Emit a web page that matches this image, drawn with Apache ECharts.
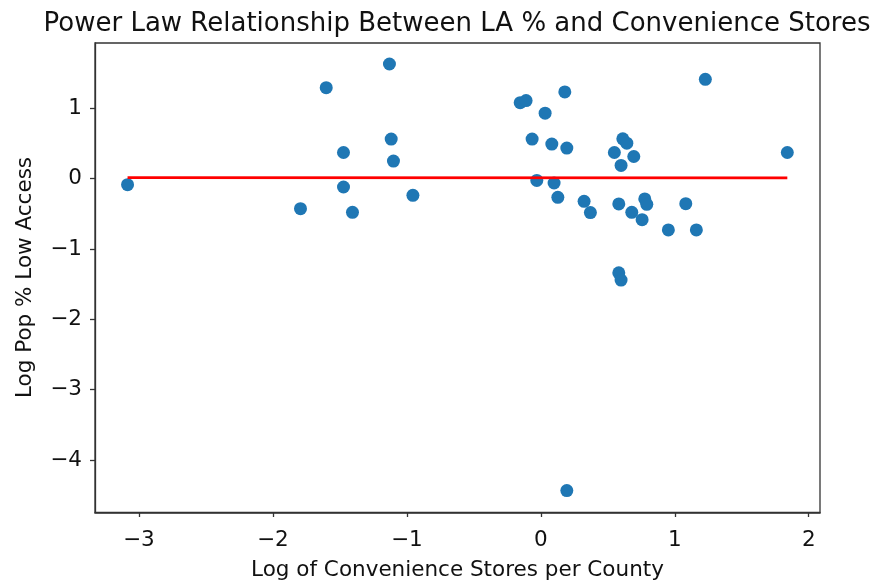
<!DOCTYPE html>
<html>
<head>
<meta charset="utf-8">
<script src="https://cdn.jsdelivr.net/npm/echarts@6/dist/echarts.min.js"></script>
<style>html,body{margin:0;padding:0;background:#fff}#c{width:875px;height:586px}</style>
</head>
<body>
<div id="c"></div>
<script>
const xValues = [-3.085,-1.602,-1.130,-1.117,-1.473,-1.100,-1.473,-0.955,-1.794,-1.406,
  -0.154,-0.110,0.179,0.032,-0.065,0.082,0.194,1.228,1.840,0.612,0.642,0.549,0.694,0.599,
  -0.030,0.099,0.127,0.323,0.370,0.582,0.776,0.791,0.679,0.756,0.952,1.082,1.161,
  0.582,0.599,0.194];
const yValues = [-0.085,1.295,1.631,0.563,0.373,0.251,-0.118,-0.237,-0.426,-0.478,
  1.082,1.111,1.234,0.932,0.563,0.492,0.435,1.414,0.373,0.567,0.506,0.373,0.316,0.189,
  -0.024,-0.061,-0.265,-0.322,-0.482,-0.359,-0.288,-0.364,-0.478,-0.582,-0.728,-0.355,-0.728,
  -1.338,-1.442,-4.435];
const fitX = [-3.085, 1.840];
const fitY = [0.015, 0.012];
const xTicks = [-3,-2,-1,0,1,2];
const yTicks = [-4,-3,-2,-1,0,1];

const fmt = v => String(v).replace('-', '\u2212');
const font = 'DejaVu Sans';
const chart = echarts.init(document.getElementById('c'));
chart.setOption({
  animation: false,
  title: {
    text: 'Power Law Relationship Between LA % and Convenience Stores',
    left: 452, top: 6, textAlign: 'center',
    textStyle: {fontFamily: font, fontSize: 26, fontWeight: 'normal', color: '#111'}
  },
  grid: {left: 95, top: 43, width: 725, height: 470},
  xAxis: {
    type: 'value', min: -3.328, max: 2.084,
    name: 'Log of Convenience Stores per County', nameLocation: 'middle', nameGap: 47,
    nameTextStyle: {fontFamily: font, fontSize: 21.5, color: '#111'},
    axisLine: {onZero: false, lineStyle: {color: '#333', width: 1.3}},
    axisTick: {show: true, length: 5, inside: false, customValues: xTicks, lineStyle: {color: '#333', width: 1.3}},
    axisLabel: {customValues: xTicks, formatter: fmt, fontFamily: font, fontSize: 21.5, color: '#111', margin: 17},
    splitLine: {show: false}
  },
  yAxis: {
    type: 'value', min: -4.74, max: 1.93,
    name: 'Log Pop % Low Access', nameLocation: 'middle', nameGap: 59,
    nameTextStyle: {fontFamily: font, fontSize: 21.5, color: '#111'},
    axisLine: {show: true, onZero: false, lineStyle: {color: '#333', width: 1.3}},
    axisTick: {show: true, length: 5, inside: false, customValues: yTicks, lineStyle: {color: '#333', width: 1.3}},
    axisLabel: {customValues: yTicks, formatter: fmt, fontFamily: font, fontSize: 21.5, color: '#111', margin: 13},
    splitLine: {show: false}
  },
  graphic: [{
    type: 'rect', shape: {x: 95, y: 43, width: 725, height: 470},
    style: {fill: 'none', stroke: '#333', lineWidth: 1.3}, silent: true, z: 100
  }],
  series: [
    {
      type: 'scatter', symbolSize: 13,
      itemStyle: {color: '#1f77b4', opacity: 1},
      data: xValues.map((x, i) => [x, yValues[i]]), z: 2
    },
    {
      type: 'line', showSymbol: false, symbol: 'none',
      lineStyle: {color: '#ff0000', width: 2.8},
      data: fitX.map((x, i) => [x, fitY[i]]), z: 3
    }
  ]
});
</script>
</body>
</html>
